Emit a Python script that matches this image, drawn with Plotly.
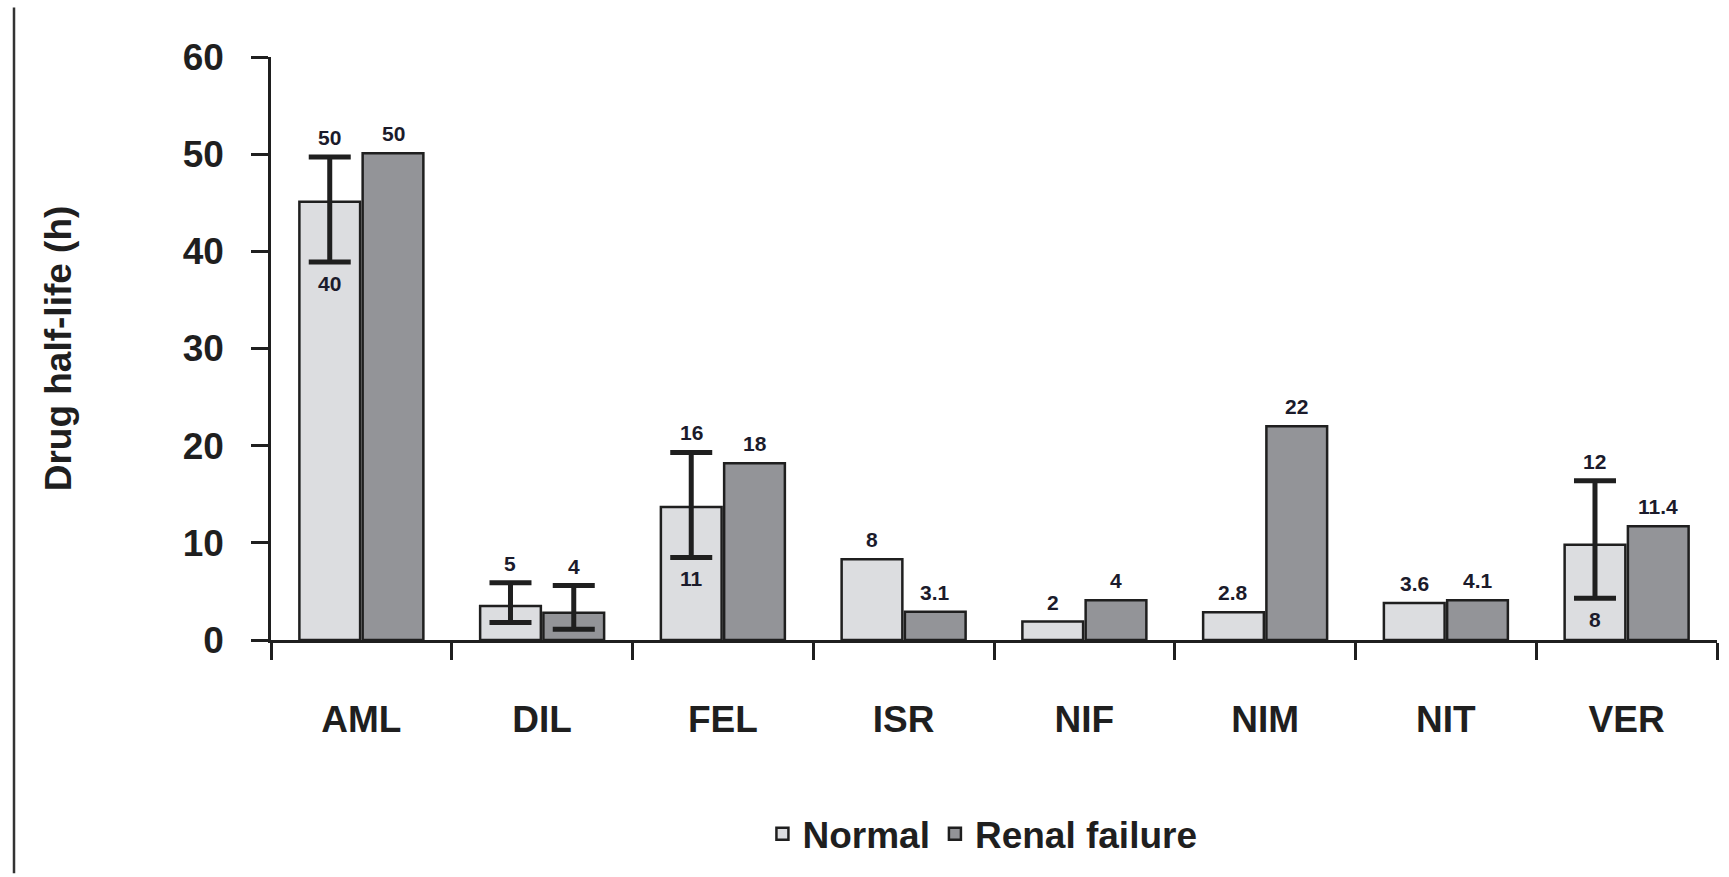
import plotly.graph_objects as go

# ---- data ----
categories = ["AML", "DIL", "FEL", "ISR", "NIF", "NIM", "NIT", "VER"]
normal = [45.1, 3.5, 13.7, 8.3, 1.9, 2.85, 3.8, 9.8]
renal = [50.1, 2.8, 18.2, 2.9, 4.1, 22.0, 4.1, 11.7]
normal_err_hi = [49.7, 5.9, 19.3, None, None, None, None, 16.4]
normal_err_lo = [38.9, 1.8, 8.5, None, None, None, None, 4.3]
renal_err_hi = [None, 5.6, None, None, None, None, None, None]
renal_err_lo = [None, 1.1, None, None, None, None, None, None]
normal_top_labels = ["50", "5", "16", "8", "2", "2.8", "3.6", "12"]
normal_low_labels = ["40", "", "11", "", "", "", "", "8"]
renal_labels = ["50", "4", "18", "3.1", "4", "22", "4.1", "11.4"]
y_ticks = [0, 10, 20, 30, 40, 50, 60]

# ---- style ----
W, H = 1729, 877
ML, MR, MT, MB = 271, 12, 57, 234
BARGAP = 0.30
FONT = "Liberation Sans, Arial, sans-serif"
INK = "#1f1f1f"
LABEL_INK = "#1b1b2b"
C_NORMAL = "#dcdde0"
C_RENAL = "#939498"

cat_px = (W - ML - MR) / len(categories)
slot_shift = cat_px * (1 - BARGAP) / 4.0

fig = go.Figure()


def add_series(name, vals, hi, lo, color, group):
    with_err = [i for i in range(len(vals)) if hi[i] is not None]
    no_err = [i for i in range(len(vals)) if hi[i] is None]
    shown = False
    for idx, has_err in ((with_err, True), (no_err, False)):
        if not idx:
            continue
        kw = {}
        if has_err:
            kw["error_y"] = dict(
                type="data", symmetric=False,
                array=[hi[i] - vals[i] for i in idx],
                arrayminus=[vals[i] - lo[i] for i in idx],
                color=INK, thickness=5, width=21,
            )
        fig.add_trace(go.Bar(
            x=[categories[i] for i in idx], y=[vals[i] for i in idx],
            name=name, offsetgroup=group, legendgroup=group,
            showlegend=not shown,
            marker=dict(color=color, line=dict(color=INK, width=2.5)),
            **kw,
        ))
        shown = True


add_series("Normal", normal, normal_err_hi, normal_err_lo, C_NORMAL, "n")
add_series("Renal failure", renal, renal_err_hi, renal_err_lo, C_RENAL, "r")

annotations = []
lab_font = dict(family=FONT, size=21, color=LABEL_INK, weight="bold")
for i, c in enumerate(categories):
    top_n = max(normal[i], normal_err_hi[i] or 0)
    annotations.append(dict(x=c, y=top_n, xref="x", yref="y", text=normal_top_labels[i],
                            showarrow=False, xshift=-slot_shift, yshift=6,
                            yanchor="bottom", font=lab_font))
    if normal_low_labels[i]:
        annotations.append(dict(x=c, y=normal_err_lo[i], xref="x", yref="y",
                                text=normal_low_labels[i], showarrow=False,
                                xshift=-slot_shift, yshift=-8, yanchor="top", font=lab_font))
    top_r = max(renal[i], renal_err_hi[i] or 0)
    annotations.append(dict(x=c, y=top_r, xref="x", yref="y", text=renal_labels[i],
                            showarrow=False, xshift=slot_shift, yshift=6,
                            yanchor="bottom", font=lab_font))

big_font = dict(family=FONT, size=37, color=INK, weight="bold")

fig.update_layout(
    width=W, height=H,
    margin=dict(l=ML, r=MR, t=MT, b=MB, pad=0),
    paper_bgcolor="white", plot_bgcolor="white",
    barmode="group", bargap=BARGAP, bargroupgap=0.04,
    font=big_font,
    showlegend=True,
    legend=dict(orientation="h", x=0.492, xanchor="center", y=-0.333, yanchor="middle",
                font=big_font, itemwidth=30, bgcolor="rgba(0,0,0,0)"),
    annotations=annotations,
    shapes=[dict(type="line", xref="paper", yref="paper",
                 x0=(14 - ML) / (W - ML - MR), x1=(14 - ML) / (W - ML - MR),
                 y0=-0.40, y1=1.085, line=dict(color="#333333", width=2.5))],
)

fig.update_xaxes(
    type="category", categoryorder="array", categoryarray=categories,
    showline=True, linecolor=INK, linewidth=2.5,
    ticks="outside", tickson="boundaries", ticklen=17, tickwidth=2.5, tickcolor=INK,
    tickfont=big_font, ticklabelstandoff=45, showgrid=False, zeroline=False,
)
fig.update_yaxes(
    range=[0, 60], tickvals=y_ticks,
    showline=True, linecolor=INK, linewidth=2.5,
    ticks="outside", ticklen=17, tickwidth=2.5, tickcolor=INK,
    tickfont=big_font, ticklabelstandoff=20, showgrid=False, zeroline=False,
    title=dict(text="Drug half-life (h)", font=big_font, standoff=100),
)

fig.write_html("out.html", config={"displayModeBar": False},
               post_script="document.body.style.margin='0';")
